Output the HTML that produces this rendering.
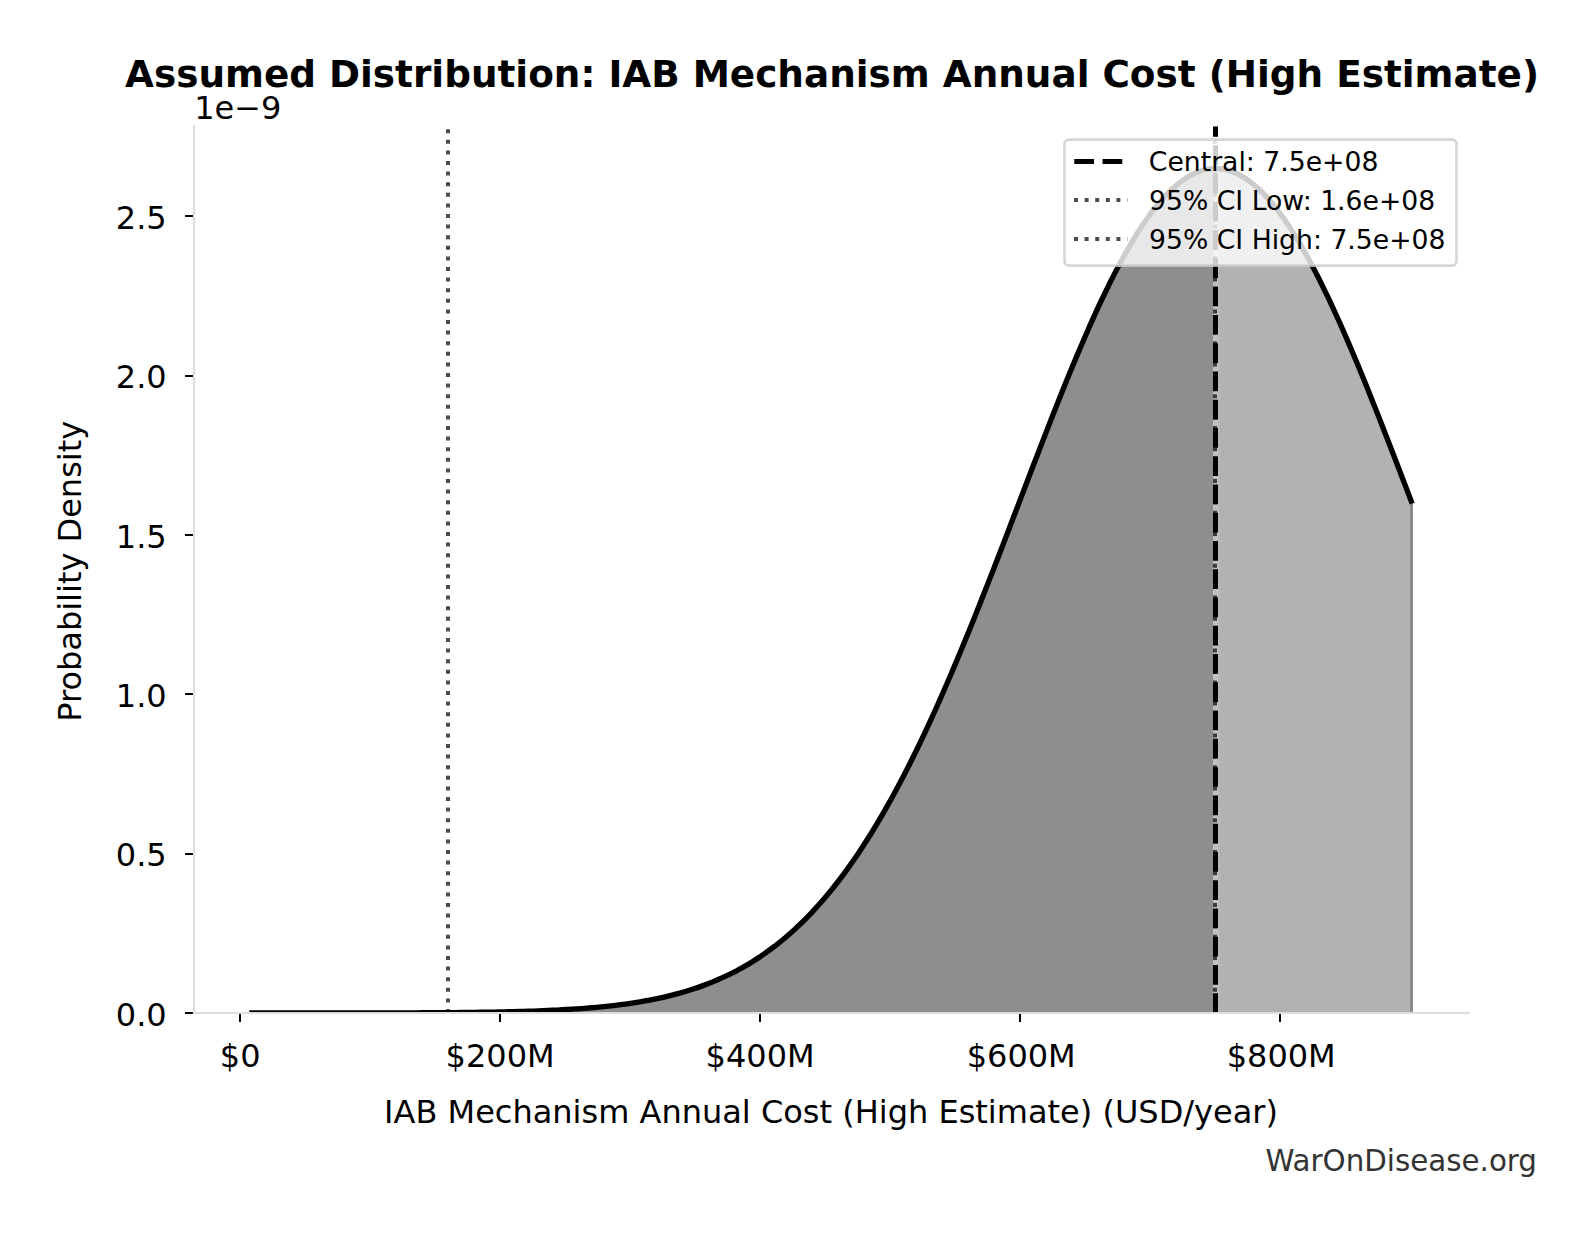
<!DOCTYPE html>
<html><head><meta charset="utf-8"><title>Assumed Distribution: IAB Mechanism Annual Cost (High Estimate)</title>
<style>html,body{margin:0;padding:0;background:#fff}body{width:1596px;height:1234px;overflow:hidden}</style></head>
<body>
<svg width="1596" height="1234" viewBox="0 0 1596 1234" style="display:block;font-family:'DejaVu Sans','Liberation Sans',sans-serif">
<rect width="1596" height="1234" fill="#fff"/>
<defs><clipPath id="ax"><rect x="194.0" y="126.27" width="1274.9" height="886.73"/></clipPath></defs>
<g clip-path="url(#ax)">
<path d="M251.95,1013.00 L256.81,1012.99 L261.66,1012.99 L266.51,1012.99 L271.36,1012.99 L276.21,1012.99 L281.06,1012.99 L285.91,1012.99 L290.76,1012.99 L295.61,1012.99 L300.46,1012.98 L305.31,1012.98 L310.16,1012.98 L315.01,1012.98 L319.86,1012.98 L324.71,1012.97 L329.56,1012.97 L334.41,1012.97 L339.26,1012.96 L344.11,1012.96 L348.97,1012.95 L353.82,1012.95 L358.67,1012.94 L363.52,1012.94 L368.37,1012.93 L373.22,1012.92 L378.07,1012.91 L382.92,1012.90 L387.77,1012.89 L392.62,1012.88 L397.47,1012.86 L402.32,1012.85 L407.17,1012.83 L412.02,1012.82 L416.87,1012.80 L421.72,1012.77 L426.57,1012.75 L431.42,1012.72 L436.27,1012.70 L441.13,1012.66 L445.98,1012.63 L450.83,1012.59 L455.68,1012.55 L460.53,1012.51 L465.38,1012.46 L470.23,1012.40 L475.08,1012.34 L479.93,1012.28 L484.78,1012.21 L489.63,1012.13 L494.48,1012.05 L499.33,1011.96 L504.18,1011.86 L509.03,1011.75 L513.88,1011.64 L518.73,1011.51 L523.58,1011.37 L528.43,1011.22 L533.29,1011.06 L538.14,1010.89 L542.99,1010.70 L547.84,1010.50 L552.69,1010.28 L557.54,1010.04 L562.39,1009.78 L567.24,1009.51 L572.09,1009.21 L576.94,1008.89 L581.79,1008.54 L586.64,1008.17 L591.49,1007.77 L596.34,1007.34 L601.19,1006.88 L606.04,1006.39 L610.89,1005.86 L615.74,1005.30 L620.59,1004.69 L625.45,1004.04 L630.30,1003.35 L635.15,1002.61 L640.00,1001.82 L644.85,1000.98 L649.70,1000.08 L654.55,999.13 L659.40,998.11 L664.25,997.03 L669.10,995.88 L673.95,994.66 L678.80,993.36 L683.65,991.99 L688.50,990.53 L693.35,988.99 L698.20,987.35 L703.05,985.62 L707.90,983.79 L712.75,981.86 L717.61,979.83 L722.46,977.68 L727.31,975.41 L732.16,973.03 L737.01,970.52 L741.86,967.87 L746.71,965.10 L751.56,962.18 L756.41,959.12 L761.26,955.92 L766.11,952.55 L770.96,949.03 L775.81,945.35 L780.66,941.49 L785.51,937.47 L790.36,933.26 L795.21,928.88 L800.06,924.30 L804.91,919.54 L809.77,914.58 L814.62,909.42 L819.47,904.06 L824.32,898.49 L829.17,892.71 L834.02,886.71 L838.87,880.50 L843.72,874.07 L848.57,867.41 L853.42,860.53 L858.27,853.42 L863.12,846.09 L867.97,838.52 L872.82,830.72 L877.67,822.69 L882.52,814.43 L887.37,805.94 L892.22,797.22 L897.07,788.27 L901.93,779.09 L906.78,769.69 L911.63,760.06 L916.48,750.22 L921.33,740.16 L926.18,729.88 L931.03,719.40 L935.88,708.73 L940.73,697.85 L945.58,686.79 L950.43,675.55 L955.28,664.13 L960.13,652.55 L964.98,640.81 L969.83,628.93 L974.68,616.91 L979.53,604.77 L984.38,592.51 L989.23,580.15 L994.09,567.70 L998.94,555.18 L1003.79,542.59 L1008.64,529.95 L1013.49,517.28 L1018.34,504.59 L1023.19,491.89 L1028.04,479.21 L1032.89,466.55 L1037.74,453.93 L1042.59,441.38 L1047.44,428.90 L1052.29,416.52 L1057.14,404.25 L1061.99,392.10 L1066.84,380.11 L1071.69,368.28 L1076.54,356.63 L1081.39,345.18 L1086.24,333.95 L1091.10,322.95 L1095.95,312.21 L1100.80,301.74 L1105.65,291.55 L1110.50,281.67 L1115.35,272.11 L1120.20,262.88 L1125.05,254.01 L1129.90,245.50 L1134.75,237.38 L1139.60,229.64 L1144.45,222.32 L1149.30,215.42 L1154.15,208.96 L1159.00,202.94 L1163.85,197.38 L1168.70,192.28 L1173.55,187.66 L1178.40,183.52 L1183.26,179.87 L1188.11,176.72 L1192.96,174.08 L1197.81,171.94 L1202.66,170.32 L1207.51,169.21 L1212.36,168.62 L1217.21,168.55 L1222.06,169.00 L1226.91,169.97 L1231.76,171.45 L1236.61,173.44 L1241.46,175.95 L1246.31,178.96 L1251.16,182.47 L1256.01,186.47 L1260.86,190.96 L1265.71,195.93 L1270.56,201.36 L1275.42,207.26 L1280.27,213.60 L1285.12,220.39 L1289.97,227.59 L1294.82,235.21 L1299.67,243.23 L1304.52,251.63 L1309.37,260.41 L1314.22,269.54 L1319.07,279.01 L1323.92,288.81 L1328.77,298.91 L1333.62,309.31 L1338.47,319.98 L1343.32,330.90 L1348.17,342.07 L1353.02,353.46 L1357.87,365.06 L1362.72,376.84 L1367.58,388.79 L1372.43,400.90 L1377.28,413.14 L1382.13,425.49 L1386.98,437.94 L1391.83,450.48 L1396.68,463.08 L1401.53,475.73 L1406.38,488.41 L1410.00,501.10 L1410,1013.0 L251.50,1013.0 Z" fill="#000" fill-opacity="0.3"/>
<path d="M448.45,1012.61 L453.27,1012.57 L458.10,1012.53 L462.92,1012.48 L467.75,1012.43 L472.57,1012.37 L477.39,1012.31 L482.22,1012.25 L487.04,1012.17 L491.87,1012.09 L496.69,1012.01 L501.51,1011.91 L506.34,1011.81 L511.16,1011.70 L515.98,1011.58 L520.81,1011.45 L525.63,1011.31 L530.46,1011.16 L535.28,1010.99 L540.10,1010.81 L544.93,1010.62 L549.75,1010.41 L554.58,1010.19 L559.40,1009.94 L564.22,1009.68 L569.05,1009.40 L573.87,1009.09 L578.70,1008.77 L583.52,1008.41 L588.34,1008.03 L593.17,1007.63 L597.99,1007.19 L602.81,1006.72 L607.64,1006.22 L612.46,1005.68 L617.29,1005.11 L622.11,1004.49 L626.93,1003.84 L631.76,1003.13 L636.58,1002.38 L641.41,1001.58 L646.23,1000.73 L651.05,999.82 L655.88,998.86 L660.70,997.83 L665.53,996.73 L670.35,995.57 L675.17,994.34 L680.00,993.03 L684.82,991.64 L689.64,990.17 L694.47,988.62 L699.29,986.97 L704.12,985.23 L708.94,983.39 L713.76,981.45 L718.59,979.40 L723.41,977.24 L728.24,974.96 L733.06,972.57 L737.88,970.05 L742.71,967.40 L747.53,964.61 L752.36,961.69 L757.18,958.62 L762.00,955.41 L766.83,952.04 L771.65,948.52 L776.48,944.83 L781.30,940.97 L786.12,936.95 L790.95,932.74 L795.77,928.36 L800.59,923.79 L805.42,919.03 L810.24,914.08 L815.07,908.93 L819.89,903.58 L824.71,898.02 L829.54,892.25 L834.36,886.28 L839.19,880.08 L844.01,873.67 L848.83,867.04 L853.66,860.19 L858.48,853.11 L863.31,845.80 L868.13,838.27 L872.95,830.51 L877.78,822.52 L882.60,814.30 L887.42,805.85 L892.25,797.18 L897.07,788.27 L901.90,779.15 L906.72,769.80 L911.54,760.23 L916.37,750.44 L921.19,740.44 L926.02,730.23 L930.84,719.82 L935.66,709.20 L940.49,698.40 L945.31,687.41 L950.14,676.23 L954.96,664.89 L959.78,653.39 L964.61,641.72 L969.43,629.92 L974.26,617.98 L979.08,605.91 L983.90,593.73 L988.73,581.45 L993.55,569.08 L998.37,556.63 L1003.20,544.12 L1008.02,531.56 L1012.85,518.96 L1017.67,506.34 L1022.49,493.71 L1027.32,481.09 L1032.14,468.50 L1036.97,455.94 L1041.79,443.45 L1046.61,431.02 L1051.44,418.69 L1056.26,406.46 L1061.09,394.36 L1065.91,382.41 L1070.73,370.61 L1075.56,358.98 L1080.38,347.56 L1085.20,336.34 L1090.03,325.35 L1094.85,314.61 L1099.68,304.13 L1104.50,293.93 L1109.32,284.03 L1114.15,274.44 L1118.97,265.18 L1123.80,256.27 L1128.62,247.71 L1133.44,239.53 L1138.27,231.73 L1143.09,224.33 L1147.92,217.35 L1152.74,210.80 L1157.56,204.68 L1162.39,199.01 L1167.21,193.80 L1172.03,189.05 L1176.86,184.78 L1181.68,181.00 L1186.51,177.71 L1191.33,174.91 L1196.15,172.61 L1200.98,170.82 L1205.80,169.54 L1210.63,168.77 L1213.00,168.52 L1213,1013.0 L448.00,1013.0 Z" fill="#000" fill-opacity="0.2"/>
<rect x="1213" y="168.52" width="5" height="844.48" fill="#fff" fill-opacity="0.2"/>
<rect x="1218" y="168.59" width="2" height="844.41" fill="#fff" fill-opacity="0.08"/>
<rect x="1410" y="501.06" width="3" height="513.94" fill="#8a8a8a"/>
<path d="M251.95,1013.00 L256.81,1012.99 L261.66,1012.99 L266.51,1012.99 L271.36,1012.99 L276.21,1012.99 L281.06,1012.99 L285.91,1012.99 L290.76,1012.99 L295.61,1012.99 L300.46,1012.98 L305.31,1012.98 L310.16,1012.98 L315.01,1012.98 L319.86,1012.98 L324.71,1012.97 L329.56,1012.97 L334.41,1012.97 L339.26,1012.96 L344.11,1012.96 L348.97,1012.95 L353.82,1012.95 L358.67,1012.94 L363.52,1012.94 L368.37,1012.93 L373.22,1012.92 L378.07,1012.91 L382.92,1012.90 L387.77,1012.89 L392.62,1012.88 L397.47,1012.86 L402.32,1012.85 L407.17,1012.83 L412.02,1012.82 L416.87,1012.80 L421.72,1012.77 L426.57,1012.75 L431.42,1012.72 L436.27,1012.70 L441.13,1012.66 L445.98,1012.63 L450.83,1012.59 L455.68,1012.55 L460.53,1012.51 L465.38,1012.46 L470.23,1012.40 L475.08,1012.34 L479.93,1012.28 L484.78,1012.21 L489.63,1012.13 L494.48,1012.05 L499.33,1011.96 L504.18,1011.86 L509.03,1011.75 L513.88,1011.64 L518.73,1011.51 L523.58,1011.37 L528.43,1011.22 L533.29,1011.06 L538.14,1010.89 L542.99,1010.70 L547.84,1010.50 L552.69,1010.28 L557.54,1010.04 L562.39,1009.78 L567.24,1009.51 L572.09,1009.21 L576.94,1008.89 L581.79,1008.54 L586.64,1008.17 L591.49,1007.77 L596.34,1007.34 L601.19,1006.88 L606.04,1006.39 L610.89,1005.86 L615.74,1005.30 L620.59,1004.69 L625.45,1004.04 L630.30,1003.35 L635.15,1002.61 L640.00,1001.82 L644.85,1000.98 L649.70,1000.08 L654.55,999.13 L659.40,998.11 L664.25,997.03 L669.10,995.88 L673.95,994.66 L678.80,993.36 L683.65,991.99 L688.50,990.53 L693.35,988.99 L698.20,987.35 L703.05,985.62 L707.90,983.79 L712.75,981.86 L717.61,979.83 L722.46,977.68 L727.31,975.41 L732.16,973.03 L737.01,970.52 L741.86,967.87 L746.71,965.10 L751.56,962.18 L756.41,959.12 L761.26,955.92 L766.11,952.55 L770.96,949.03 L775.81,945.35 L780.66,941.49 L785.51,937.47 L790.36,933.26 L795.21,928.88 L800.06,924.30 L804.91,919.54 L809.77,914.58 L814.62,909.42 L819.47,904.06 L824.32,898.49 L829.17,892.71 L834.02,886.71 L838.87,880.50 L843.72,874.07 L848.57,867.41 L853.42,860.53 L858.27,853.42 L863.12,846.09 L867.97,838.52 L872.82,830.72 L877.67,822.69 L882.52,814.43 L887.37,805.94 L892.22,797.22 L897.07,788.27 L901.93,779.09 L906.78,769.69 L911.63,760.06 L916.48,750.22 L921.33,740.16 L926.18,729.88 L931.03,719.40 L935.88,708.73 L940.73,697.85 L945.58,686.79 L950.43,675.55 L955.28,664.13 L960.13,652.55 L964.98,640.81 L969.83,628.93 L974.68,616.91 L979.53,604.77 L984.38,592.51 L989.23,580.15 L994.09,567.70 L998.94,555.18 L1003.79,542.59 L1008.64,529.95 L1013.49,517.28 L1018.34,504.59 L1023.19,491.89 L1028.04,479.21 L1032.89,466.55 L1037.74,453.93 L1042.59,441.38 L1047.44,428.90 L1052.29,416.52 L1057.14,404.25 L1061.99,392.10 L1066.84,380.11 L1071.69,368.28 L1076.54,356.63 L1081.39,345.18 L1086.24,333.95 L1091.10,322.95 L1095.95,312.21 L1100.80,301.74 L1105.65,291.55 L1110.50,281.67 L1115.35,272.11 L1120.20,262.88 L1125.05,254.01 L1129.90,245.50 L1134.75,237.38 L1139.60,229.64 L1144.45,222.32 L1149.30,215.42 L1154.15,208.96 L1159.00,202.94 L1163.85,197.38 L1168.70,192.28 L1173.55,187.66 L1178.40,183.52 L1183.26,179.87 L1188.11,176.72 L1192.96,174.08 L1197.81,171.94 L1202.66,170.32 L1207.51,169.21 L1212.36,168.62 L1217.21,168.55 L1222.06,169.00 L1226.91,169.97 L1231.76,171.45 L1236.61,173.44 L1241.46,175.95 L1246.31,178.96 L1251.16,182.47 L1256.01,186.47 L1260.86,190.96 L1265.71,195.93 L1270.56,201.36 L1275.42,207.26 L1280.27,213.60 L1285.12,220.39 L1289.97,227.59 L1294.82,235.21 L1299.67,243.23 L1304.52,251.63 L1309.37,260.41 L1314.22,269.54 L1319.07,279.01 L1323.92,288.81 L1328.77,298.91 L1333.62,309.31 L1338.47,319.98 L1343.32,330.90 L1348.17,342.07 L1353.02,353.46 L1357.87,365.06 L1362.72,376.84 L1367.58,388.79 L1372.43,400.90 L1377.28,413.14 L1382.13,425.49 L1386.98,437.94 L1391.83,450.48 L1396.68,463.08 L1401.53,475.73 L1406.38,488.41 L1411.23,501.10" fill="none" stroke="#000" stroke-width="5.333" stroke-linecap="square" stroke-linejoin="round"/>
<line x1="448.0" x2="448.0" y1="1013.0" y2="126.27" stroke="#000" stroke-opacity="0.7" stroke-width="4" stroke-dasharray="4.000 6.600"/>
<line x1="1215" x2="1215" y1="1013.0" y2="126.27" stroke="#000" stroke-opacity="0.7" stroke-width="4" stroke-dasharray="4.000 6.600"/>
<line x1="1215.5" x2="1215.5" y1="1013.0" y2="126.27" stroke="#000" stroke-width="5" stroke-dasharray="19.733 8.533"/>
</g>
<rect x="239.0" y="1013.0" width="2" height="9" fill="#000"/>
<rect x="499.0" y="1013.0" width="2" height="9" fill="#000"/>
<rect x="759.0" y="1013.0" width="2" height="9" fill="#000"/>
<rect x="1019.0" y="1013.0" width="2" height="9" fill="#000"/>
<rect x="1279.0" y="1013.0" width="2" height="9" fill="#000"/>
<rect x="185" y="1012" width="9" height="2" fill="#000"/>
<rect x="185" y="853" width="9" height="2" fill="#000"/>
<rect x="185" y="693" width="9" height="2" fill="#000"/>
<rect x="185" y="534" width="9" height="2" fill="#000"/>
<rect x="185" y="375" width="9" height="2" fill="#000"/>
<rect x="185" y="215" width="9" height="2" fill="#000"/>
<path d="M194.0,125.20 V1014.07" fill="none" stroke="#ddd" stroke-width="2.133"/>
<path d="M192.93,1013.0 H1469.97" fill="none" stroke="#ddd" stroke-width="2.133"/>
<text x="240.2" y="1066.5" font-size="32.00" text-anchor="middle">$0</text>
<text x="500.1" y="1066.5" font-size="32.00" text-anchor="middle">$200M</text>
<text x="760.1" y="1066.5" font-size="32.00" text-anchor="middle">$400M</text>
<text x="1021.2" y="1066.5" font-size="32.00" text-anchor="middle">$600M</text>
<text x="1281.2" y="1066.5" font-size="32.00" text-anchor="middle">$800M</text>
<text x="166.7" y="1025.60" font-size="32.00" text-anchor="end">0.0</text>
<text x="166.7" y="866.30" font-size="32.00" text-anchor="end">0.5</text>
<text x="166.7" y="707.00" font-size="32.00" text-anchor="end">1.0</text>
<text x="166.7" y="547.70" font-size="32.00" text-anchor="end">1.5</text>
<text x="166.7" y="388.40" font-size="32.00" text-anchor="end">2.0</text>
<text x="166.7" y="229.10" font-size="32.00" text-anchor="end">2.5</text>
<text x="194.2" y="118.8" font-size="32.00">1e−9</text>
<text x="832.0" y="86.9" font-size="37.37" font-weight="bold" text-anchor="middle">Assumed Distribution: IAB Mechanism Annual Cost (High Estimate)</text>
<text x="831.0" y="1122.9" font-size="32.00" text-anchor="middle">IAB Mechanism Annual Cost (High Estimate) (USD/year)</text>
<text transform="translate(81,571.3) rotate(-90)" font-size="32.00" text-anchor="middle">Probability Density</text>
<text x="1537" y="1171" font-size="29.33" text-anchor="end" fill="#333">WarOnDisease.org</text>
<rect x="1064.5" y="139.6" width="392" height="125.95" rx="4.4" ry="4.4" fill="#fff" fill-opacity="0.8" stroke="#ccc" stroke-opacity="0.8" stroke-width="2.667"/>
<line x1="1074.3" x2="1127.33" y1="161.5" y2="161.5" stroke="#000" stroke-width="5" stroke-dasharray="19.733 8.533"/>
<line x1="1074.0" x2="1127.33" y1="200.0" y2="200.0" stroke="#000" stroke-opacity="0.7" stroke-width="4" stroke-dasharray="4.000 6.600"/>
<line x1="1074.0" x2="1127.33" y1="239.05" y2="239.05" stroke="#000" stroke-opacity="0.7" stroke-width="4" stroke-dasharray="4.000 6.600"/>
<text x="1148.8" y="171.25" font-size="26.67">Central: 7.5e+08</text>
<text x="1149" y="209.5" font-size="26.67">95% CI Low: 1.6e+08</text>
<text x="1149" y="248.55" font-size="26.67">95% CI High: 7.5e+08</text>
</svg>
</body></html>
